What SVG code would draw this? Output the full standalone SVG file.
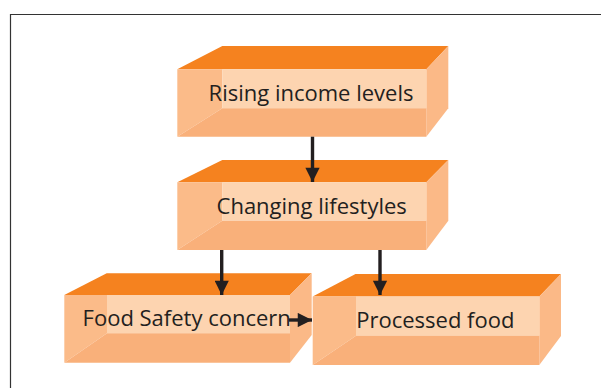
<svg xmlns="http://www.w3.org/2000/svg" width="601" height="388" viewBox="0 0 601 388">
  <defs>
    <style>
      .top { fill: #F5821F; }
      .side { fill: #FBB987; }
      .strip { fill: #FBBB89; }
      .panel { fill: #FDD4B0; }
      .bottom { fill: #F9B07A; }
      .label { font-family: "Open Sans", "Liberation Sans", sans-serif; font-size: 22px; fill: #231F20; text-anchor: middle; }
      .link { stroke: #231F20; stroke-width: 3.4; fill: none; }
    </style>
    <marker id="head" viewBox="0 0 10 10" refX="10" refY="5" markerWidth="4.4" markerHeight="4.2" markerUnits="strokeWidth" orient="auto">
      <path d="M0,0 L10,5 L0,10 Z" fill="#231F20"/>
    </marker>
  </defs>

  <rect width="601" height="388" fill="#FFFFFF"/>
  <!-- outer frame, open to the right and bottom -->
  <path d="M10.5,388 V14.5 H601" fill="none" stroke="#333333" stroke-width="1.2"/>

  <!-- block: Rising income levels -->
  <g id="rising-income">
    <polygon class="top" points="177.3,69.3 222.3,46 448.3,46 426.3,69.3"/>
    <polygon class="side" points="426.3,69.3 448.3,46 448.3,108.3 426.3,136.7"/>
    <polygon class="strip" points="177.3,69.3 222.3,69.3 222.3,108.3 177.3,136.7"/>
    <rect class="panel" x="222.3" y="69.3" width="204" height="39"/>
    <polygon class="bottom" points="177.3,136.7 222.3,108.3 426.3,108.3 426.3,136.7"/>
    <text class="label" x="311" y="100.5">Rising income levels</text>
  </g>

  <!-- block: Changing lifestyles -->
  <g id="changing-lifestyles">
    <polygon class="top" points="177.3,182.3 222.3,160 448.3,160 426.3,182.3"/>
    <polygon class="side" points="426.3,182.3 448.3,160 448.3,220.7 426.3,250"/>
    <polygon class="strip" points="177.3,182.3 222.3,182.3 222.3,220.7 177.3,250"/>
    <rect class="panel" x="222.3" y="182.3" width="204" height="38.4"/>
    <polygon class="bottom" points="177.3,250 222.3,220.7 426.3,220.7 426.3,250"/>
    <text class="label" x="311.7" y="213.5">Changing lifestyles</text>
  </g>

  <!-- block: Food Safety concern -->
  <g id="food-safety">
    <polygon class="top" points="64.3,295 106.7,273.3 311.7,273.3 290,295"/>
    <polygon class="side" points="290,295 311.7,273.3 311.7,335 290,362.7"/>
    <polygon class="strip" points="64.3,295 107,295 107,333.3 64.3,362.7"/>
    <rect class="panel" x="107" y="295" width="183" height="38.3"/>
    <polygon class="bottom" points="64.3,362.7 107,333.3 290,333.3 290,362.7"/>
    <text class="label" x="186.7" y="326">Food Safety concern</text>
  </g>

  <!-- block: Processed food -->
  <g id="processed-food">
    <polygon class="top" points="312.7,296.5 355.5,274 561,274 539.3,296.5"/>
    <polygon class="side" points="539.3,296.5 561,274 561,336 539.3,365"/>
    <polygon class="strip" points="312.7,296.5 356,296.5 356,335.8 312.7,365"/>
    <rect class="panel" x="356" y="296.5" width="183.3" height="39.3"/>
    <polygon class="bottom" points="312.7,365 356,335.8 539.3,335.8 539.3,365"/>
    <text class="label" x="435.3" y="328">Processed food</text>
  </g>

  <!-- connectors -->
  <g id="connectors">
    <line class="link" x1="312.5" y1="136.7" x2="312.5" y2="182" marker-end="url(#head)"/>
    <line class="link" x1="221.7" y1="250" x2="221.7" y2="295" marker-end="url(#head)"/>
    <line class="link" x1="380" y1="250" x2="380" y2="295" marker-end="url(#head)"/>
    <line class="link" x1="289" y1="320" x2="312" y2="320" stroke-width="3" marker-end="url(#head)"/>
  </g>
</svg>
